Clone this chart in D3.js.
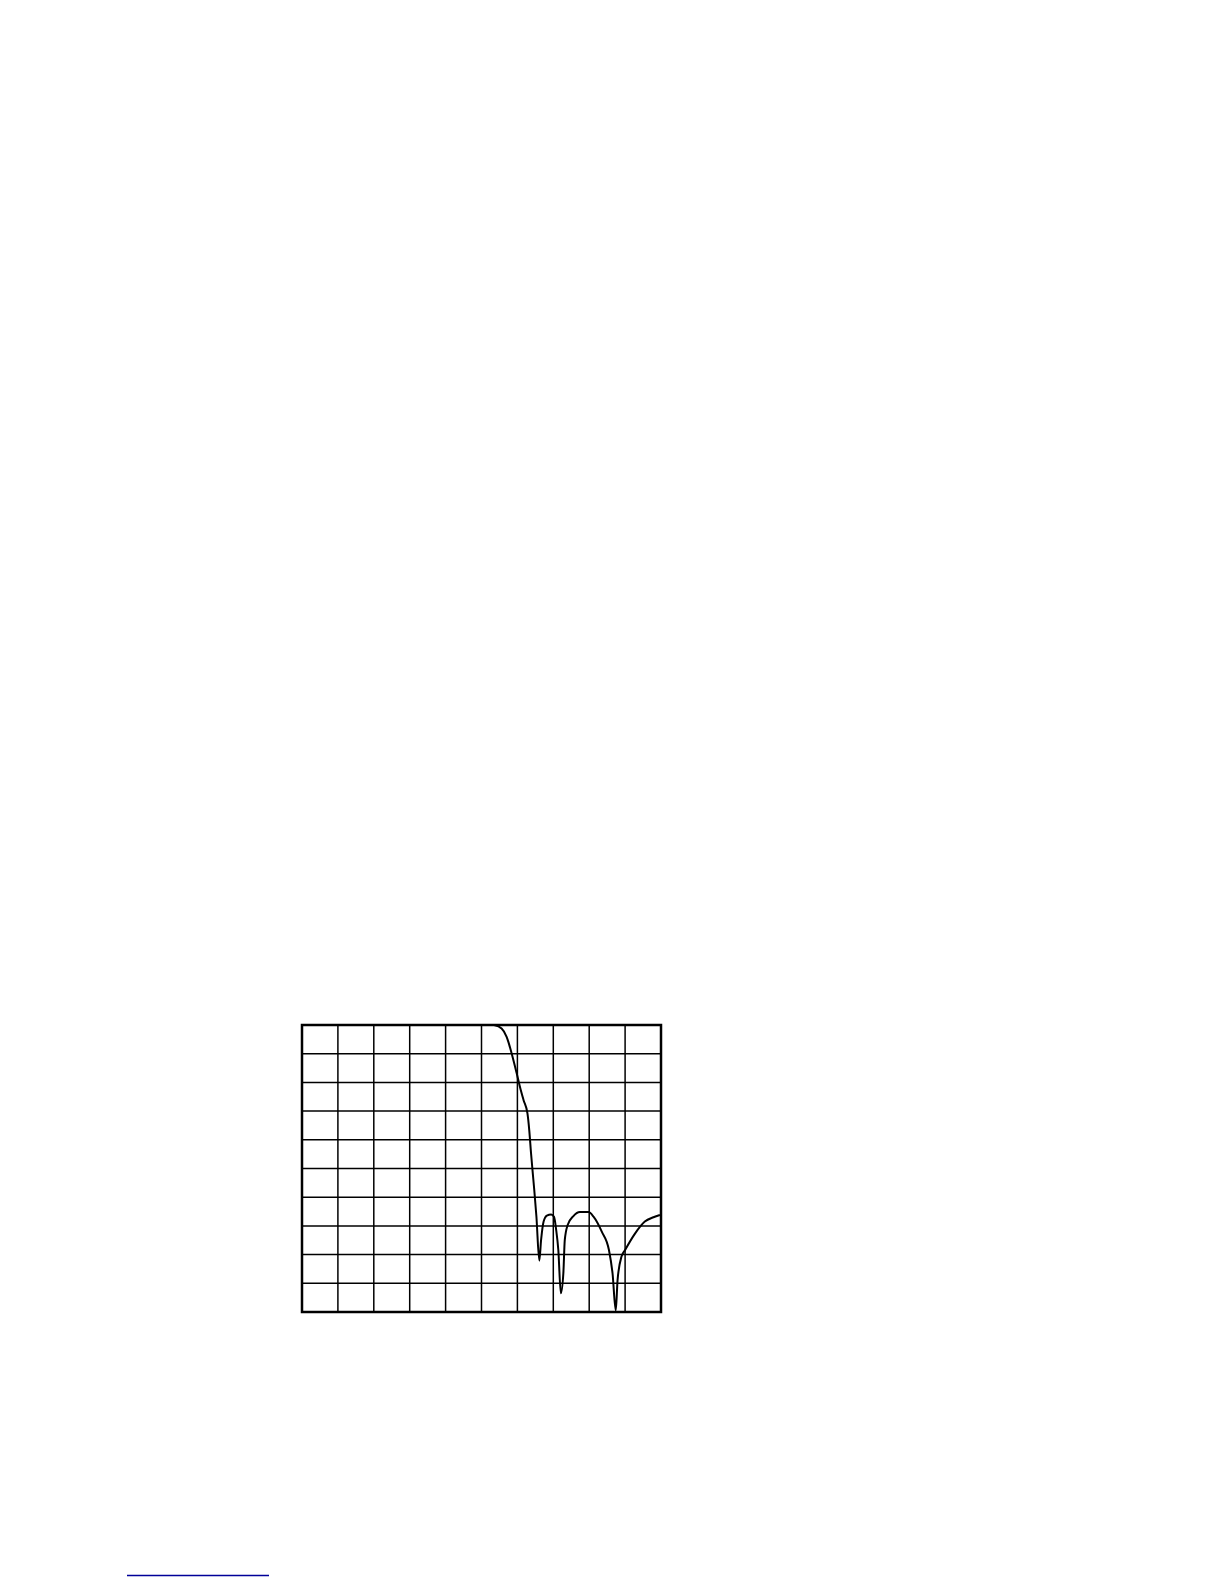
<!DOCTYPE html>
<html lang="en">
<head>
<meta charset="UTF-8" />
<title>Filter response</title>
<script src="https://d3js.org/d3.v7.min.js"></script>
<style>
  body { margin: 0; background: #fff; }
  svg { display: block; }
</style>
</head>
<body>
<script>
// response trace (x in divisions, y in dB, 10 dB/div)
const freq = [5.35, 5.56, 5.70, 5.84, 5.98, 6.07, 6.17, 6.28, 6.33, 6.38, 6.42, 6.47, 6.53,
              6.61, 6.66, 6.73, 6.82, 6.94, 7.02, 7.08, 7.14, 7.21, 7.28, 7.32, 7.40, 7.56,
              7.74, 7.98, 8.12, 8.35, 8.55, 8.65, 8.74, 8.79, 8.90, 9.00, 9.28, 9.55, 9.79, 9.97];
const level = [0, -1.2, -4.1, -9.9, -16.8, -21.5, -26.1, -30.8, -36.6, -44.7, -50.5, -57.5, -66.8,
               -82.1, -74.9, -68.5, -66.4, -66.0, -66.8, -71.4, -78.4, -93.5, -86.5, -74.9, -69.7, -66.6,
               -65.2, -65.2, -66.8, -72.0, -78.4, -86.5, -99.5, -88.9, -80.7, -78.4, -72.6, -68.5, -67.0, -66.2];
const xTicks = d3.range(0, 11);
const yTicks = d3.range(0, -101, -10);

const W = 1224, H = 1584;
const plot = { left: 302, top: 1025, width: 359, height: 287 };

const svg = d3.select("body").append("svg")
  .attr("width", W)
  .attr("height", H);

const x = d3.scaleLinear().domain([0, 10]).range([plot.left, plot.left + plot.width]);
const y = d3.scaleLinear().domain([0, -100]).range([plot.top, plot.top + plot.height]);

const g = svg.append("g");

// grid
g.append("g").selectAll("line").data(xTicks.slice(1, -1)).join("line")
  .attr("x1", d => x(d)).attr("x2", d => x(d))
  .attr("y1", y(0)).attr("y2", y(-100))
  .attr("stroke", "#000").attr("stroke-width", 1.5);

g.append("g").selectAll("line").data(yTicks.slice(1, -1)).join("line")
  .attr("x1", x(0)).attr("x2", x(10))
  .attr("y1", d => y(d)).attr("y2", d => y(d))
  .attr("stroke", "#000").attr("stroke-width", 1.5);

// trace
const line = d3.line()
  .x((d, i) => x(freq[i]))
  .y(d => y(d))
  .curve(d3.curveMonotoneX);

g.append("path")
  .datum(level)
  .attr("d", line)
  .attr("fill", "none")
  .attr("stroke", "#000")
  .attr("stroke-width", 2)
  .attr("stroke-linejoin", "round");

// frame
g.append("rect")
  .attr("x", x(0)).attr("y", y(0))
  .attr("width", plot.width).attr("height", plot.height)
  .attr("fill", "none")
  .attr("stroke", "#000")
  .attr("stroke-width", 2.5);

// footnote rule at the page bottom
svg.append("line")
  .attr("x1", 127).attr("x2", 269)
  .attr("y1", 1575.5).attr("y2", 1575.5)
  .attr("stroke", "#000099")
  .attr("stroke-width", 1.5);
</script>
</body>
</html>
